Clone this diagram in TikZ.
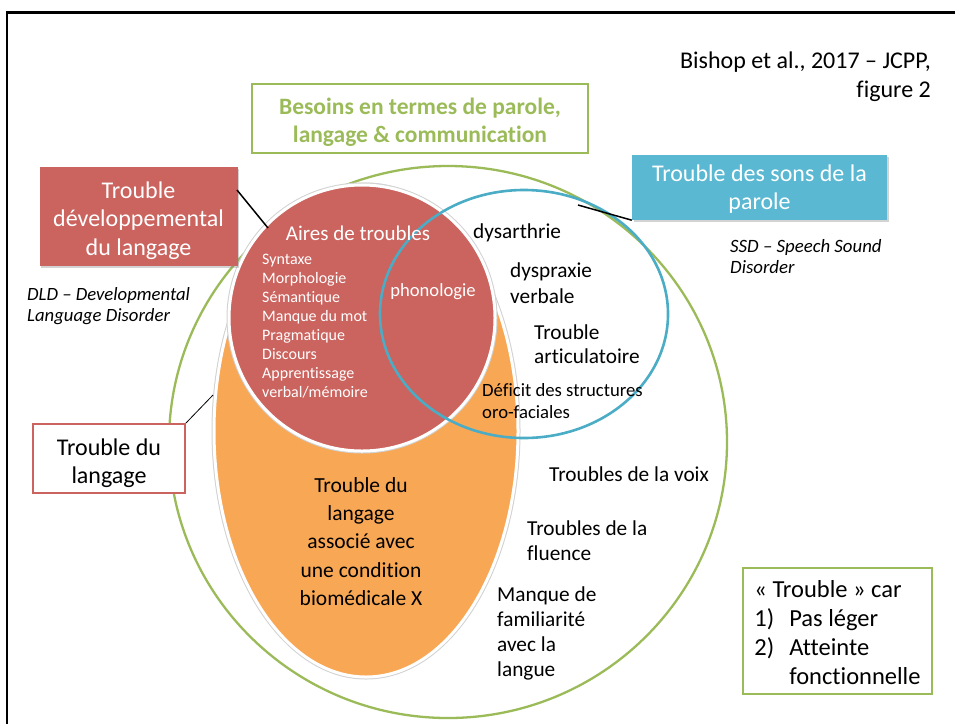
\documentclass[tikz,border=0pt]{standalone}
\usepackage{fontspec}
\setmainfont{Carlito}[Ligatures=CommonOff]
\usetikzlibrary{shadows}
\definecolor{vgreen}{HTML}{9BBB59}
\definecolor{vred}{HTML}{CB635E}
\definecolor{vorange}{HTML}{F8A755}
\definecolor{vblue}{HTML}{4BACC6}
\definecolor{vbluebox}{HTML}{5BB8D2}
\newcommand{\lowertext}[2]{\raisebox{-#1}[\height][\depth]{#2}}
\begin{document}
\begin{tikzpicture}[x=1pt,y=-1pt,
  lbl/.style={anchor=west,align=left,inner sep=0pt,font=\fontsize{21.3}{25}\selectfont},
  wlbl/.style={lbl,text=white},
  conn/.style={draw=black,line width=1.5pt},
  filledbox/.style={draw=none,inner sep=0pt,align=center,text=white,
     drop shadow={opacity=0.35,shadow xshift=1.5pt,shadow yshift=-2pt}},
]
\useasboundingbox (0,0) rectangle (955,724);
% slide frame
\draw[line width=2.2pt] (7,724) -- (7,12.5) -- (955,12.5);

% big green circle
\draw[vgreen,line width=2.3pt] (448,442) ellipse [x radius=279, y radius=276];

% orange ellipse
\draw[black!18,line width=5pt] (366,431) ellipse [x radius=152, y radius=246];
\fill[vorange,draw=white,line width=3pt] (366,431) ellipse [x radius=152, y radius=246];

% red circle
\draw[black!18,line width=5pt] (362,318) circle [radius=133];
\fill[vred,draw=white,line width=3pt] (362,318) circle [radius=133];

% blue ellipse
\draw[vblue,line width=2.6pt] (524,314) ellipse [x radius=144, y radius=124];

% connector anchor points on the shapes
\coordinate (redpt) at (268,228);
\coordinate (bluept) at (578,205);
\coordinate (orangept) at (213,395);
\coordinate (tdlside) at (237,190);

% header texts
\node[anchor=east,align=right,inner sep=0pt,font=\fontsize{24}{29}\selectfont] (ref) at (931,77)
  {Bishop et al., 2017 – JCPP,\\figure 2};

\node[draw=vgreen,line width=2pt,minimum width=336,minimum height=69,inner sep=0pt,
  font=\fontsize{23.5}{28}\bfseries\selectfont,text=vgreen] (besoins) at (420,118.5)
  {\lowertext{4pt}{\begin{tabular}{@{}c@{}}Besoins en termes de parole,\\langage \& communication\end{tabular}}};

% red box
\node[filledbox,fill=vred,minimum width=198,minimum height=99,
  font=\fontsize{24}{28.5}\selectfont] (tdl) at (138.5,216.5)
  {\lowertext{4.5pt}{\begin{tabular}{@{}c@{}}Trouble\\développemental\\du langage\end{tabular}}};
\node[lbl,font=\fontsize{18.7}{20.5}\itshape\selectfont] (dld) at (27,306)
  {DLD – Developmental\\Language Disorder};

% blue box
\node[filledbox,fill=vbluebox,minimum width=255,minimum height=65,
  font=\fontsize{24}{28}\selectfont] (tss) at (759.5,187.5)
  {\lowertext{2pt}{\begin{tabular}{@{}c@{}}Trouble des sons de la\\parole\end{tabular}}};
\node[lbl,font=\fontsize{18.8}{21}\itshape\selectfont] (ssd) at (730,257)
  {SSD – Speech Sound\\Disorder};

% Trouble du langage box
\node[draw=vred,line width=2pt,fill=white,minimum width=152,minimum height=69,inner sep=0pt,
  font=\fontsize{24}{28}\selectfont] (tdu) at (109,458.5)
  {\lowertext{5pt}{\begin{tabular}{@{}c@{}}Trouble du\\langage\end{tabular}}};

% Trouble car box
\node[draw=vgreen,line width=1.6pt,minimum width=189,minimum height=126,inner sep=0pt,
  font=\fontsize{24.5}{29}\selectfont] (car) at (837.5,631)
  {\lowertext{4pt}{\begin{tabular}{@{}l@{\hspace{15pt}}l@{}}
   \multicolumn{2}{@{}l@{}}{« Trouble » car}\\
   1) & Pas léger\\
   2) & Atteinte\\
      & fonctionnelle
   \end{tabular}}};

% connectors
\draw[conn] (tdlside) -- (redpt);
\draw[conn] (tss.south west) -- (bluept);
\draw[draw=black,line width=0.8pt] (tdu.north east) -- (orangept);

% texts inside red circle
\node[inner sep=0pt,text=white,font=\fontsize{21}{25}\selectfont] (aires) at (358,233) {Aires de troubles};
\node[wlbl,font=\fontsize{16}{19.1}\selectfont] (liste) at (262,326)
  {Syntaxe\\Morphologie\\Sémantique\\Manque du mot\\Pragmatique\\Discours\\Apprentissage\\verbal/mémoire};
\node[inner sep=0pt,text=white,font=\fontsize{18.6}{22}\selectfont] (phono) at (433,292) {phonologie};

% speech sound labels
\node[lbl] (dysar) at (473,233) {dysarthrie};
\node[lbl,font=\fontsize{21.3}{26}\selectfont] (dyspr) at (510,283) {dyspraxie\\verbale};
\node[lbl,font=\fontsize{21.3}{24.5}\selectfont] (artic) at (534,344) {Trouble\\articulatoire};
\node[lbl,font=\fontsize{18.7}{22}\selectfont] (defic) at (482,401) {Déficit des structures\\oro-faciales};

% other labels
\node[lbl] (voix) at (549,474) {Troubles de la voix};
\node[lbl] (fluen) at (527,540.5) {Troubles de la\\fluence};
\node[lbl] (manq) at (497,633) {Manque de\\familiarité\\avec la\\langue};

% orange text
\node[inner sep=0pt,align=center,font=\fontsize{21.5}{28.3}\selectfont] (biomed) at (361,541.5)
  {Trouble du\\langage\\associé avec\\une condition\\biomédicale X};
\end{tikzpicture}
\end{document}
